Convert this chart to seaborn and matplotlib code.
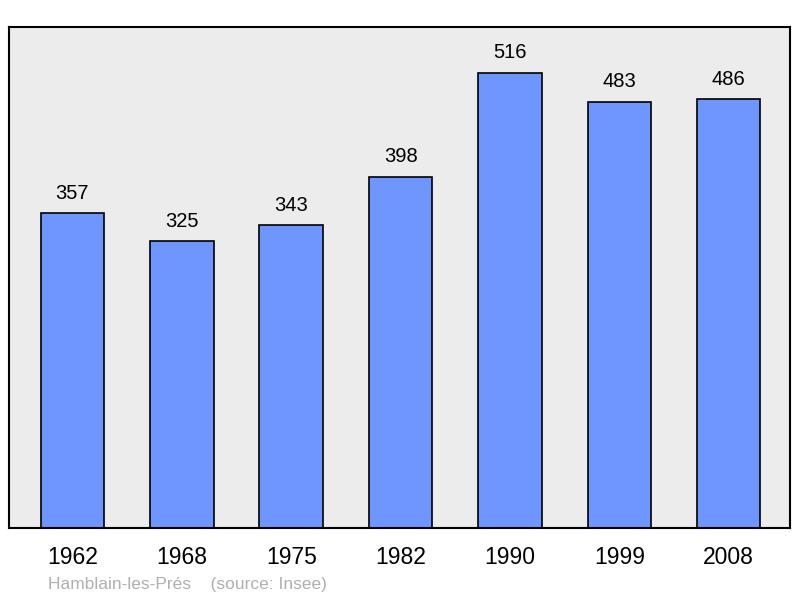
import matplotlib.pyplot as plt
import seaborn as sns
import pandas as pd

years = ["1962", "1968", "1975", "1982", "1990", "1999", "2008"]
population = [357, 325, 343, 398, 516, 483, 486]
footer = "Hamblain-les-Prés    (source: Insee)"

sns.set_style("white")
plt.rcParams['font.family'] = ['Liberation Sans', 'DejaVu Sans']
plt.rcParams['text.color'] = 'black'
plt.rcParams['xtick.color'] = 'black'

df = pd.DataFrame({"year": years, "pop": population})

fig = plt.figure(figsize=(8, 5.98), dpi=100)
ax = fig.add_axes([9/800, 70/598, 781/800, 501/598])
ax.set_facecolor("#ececec")

sns.barplot(data=df, x="year", y="pop", color="#6f96ff", saturation=1,
            edgecolor="black", linewidth=1.2, width=0.58, ax=ax)

for i, v in enumerate(population):
    ax.text(i, v + 12, str(v), ha="center", va="bottom", fontsize=14.5, color="black")

ax.set_xlim(-0.58, 6.56)
ax.set_ylim(0, 568)
ax.set_xlabel("")
ax.set_ylabel("")
ax.set_yticks([])
ax.tick_params(axis="x", length=0, pad=13, labelsize=16.5, labelcolor="black")
for s in ax.spines.values():
    s.set_linewidth(1.5)
    s.set_color("black")

fig.text(48/800, 1 - 584/598, footer, fontsize=12.5, color="#b0b0b0",
         ha="left", va="center")

plt.savefig("out.png", dpi=100)
